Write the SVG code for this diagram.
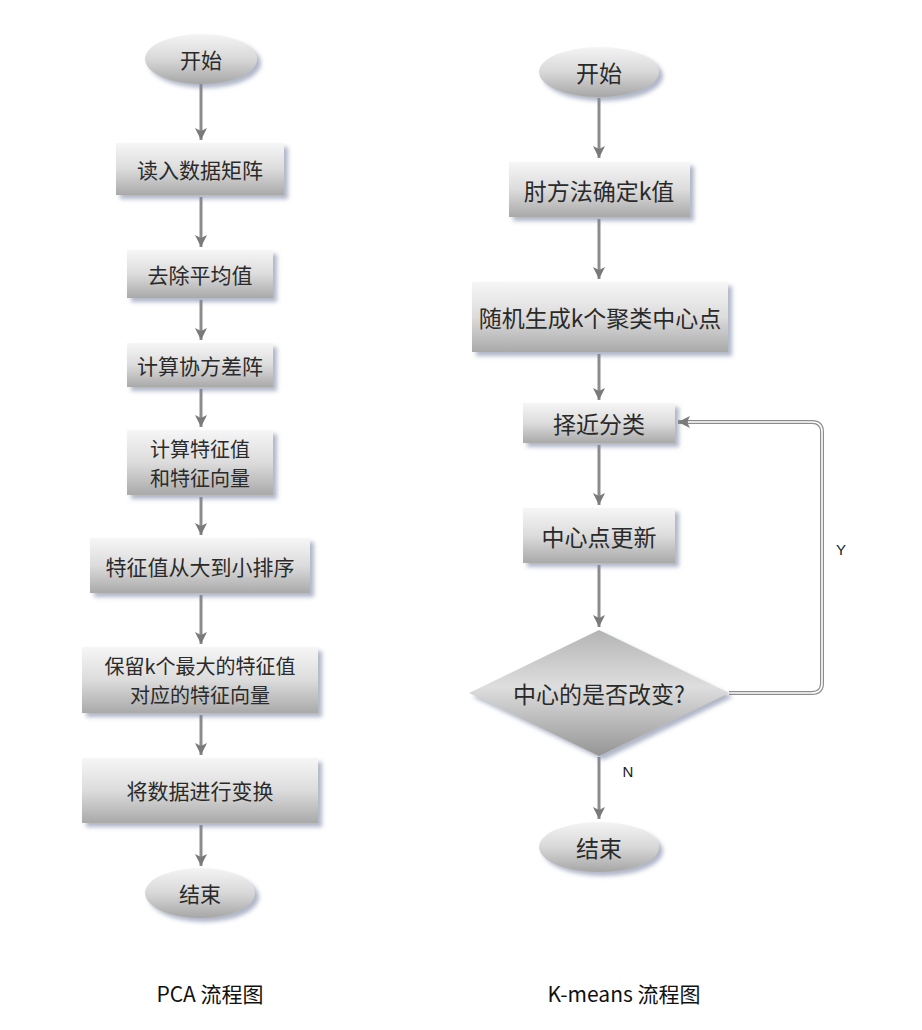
<svg xmlns="http://www.w3.org/2000/svg" width="922" height="1030" viewBox="0 0 922 1030">
<style>
text{font-family:"Noto Sans CJK SC","Liberation Sans",sans-serif;fill:#2a2a2a;text-anchor:middle;dominant-baseline:central}
.l{font-size:21px}
.l2{font-size:20px}
.r{font-size:23px}
.box{fill:url(#gbox);filter:url(#sh)}
.ell{fill:url(#gell);filter:url(#sh)}
.dia{fill:url(#gdia);filter:url(#sh)}
.ln{stroke:#8c8c8c;stroke-width:3;fill:none}
.cap{font-size:21px;fill:#111}
.yn{font-family:"Liberation Sans",sans-serif;font-size:15px;fill:#222}
</style>
<defs>
<linearGradient id="gbox" x1="0" y1="0" x2="0" y2="1">
<stop offset="0" stop-color="#f6f6f6"/>
<stop offset="0.5" stop-color="#dcdcdc"/>
<stop offset="1" stop-color="#a9a9a9"/>
</linearGradient>
<linearGradient id="gell" x1="0" y1="0" x2="0" y2="1">
<stop offset="0" stop-color="#f4f4f4"/>
<stop offset="0.5" stop-color="#d8d8d8"/>
<stop offset="1" stop-color="#a6a6a6"/>
</linearGradient>
<linearGradient id="gdia" x1="0" y1="0" x2="0" y2="1">
<stop offset="0" stop-color="#b4b4b4"/>
<stop offset="0.45" stop-color="#dedede"/>
<stop offset="1" stop-color="#959595"/>
</linearGradient>
<filter id="sh" x="-10%" y="-20%" width="125%" height="150%">
<feDropShadow dx="4" dy="4" stdDeviation="2" flood-color="#7d86a3" flood-opacity="0.6"/>
</filter>
<marker id="ah" viewBox="0 0 12 12" refX="12" refY="6" markerWidth="12" markerHeight="12" markerUnits="userSpaceOnUse" orient="auto">
<path d="M0,0 L12,6 L0,12 L3,6 z" fill="#7a7a7a"/>
</marker>
</defs>

<g id="connectors">
<g class="pca">
<path class="ln" d="M201,84 V140" marker-end="url(#ah)"/>
<path class="ln" d="M201,197 V247" marker-end="url(#ah)"/>
<path class="ln" d="M201,300 V340" marker-end="url(#ah)"/>
<path class="ln" d="M201,389 V427" marker-end="url(#ah)"/>
<path class="ln" d="M201,497 V535" marker-end="url(#ah)"/>
<path class="ln" d="M201,595 V644" marker-end="url(#ah)"/>
<path class="ln" d="M201,715 V755" marker-end="url(#ah)"/>
<path class="ln" d="M201,825 V866" marker-end="url(#ah)"/>
</g>
<g class="km">
<path class="ln" d="M599,98 V158" marker-end="url(#ah)"/>
<path class="ln" d="M599,219 V279" marker-end="url(#ah)"/>
<path class="ln" d="M599,354 V400" marker-end="url(#ah)"/>
<path class="ln" d="M599,445 V505" marker-end="url(#ah)"/>
<path class="ln" d="M599,565 V627" marker-end="url(#ah)"/>
<path class="ln" d="M599,757 V819" marker-end="url(#ah)"/>
<path d="M729,693 H812 Q822,693 822,683 V432 Q822,422 812,422 H678" fill="none" stroke="#8c8c8c" stroke-width="4" marker-end="url(#ah)"/>
<path d="M729,693 H812 Q822,693 822,683 V432 Q822,422 812,422 H688" fill="none" stroke="#ffffff" stroke-width="1.6"/>
</g>
<text class="yn" x="841" y="549">Y</text>
<text class="yn" x="628" y="771">N</text>
</g>

<g id="pca-start"><ellipse class="ell" cx="201" cy="59" rx="56" ry="25"/><text class="l" x="201" y="59">开始</text></g>
<g id="pca-read"><rect class="box" x="116" y="143" width="168" height="52"/><text class="l" x="200" y="169">读入数据矩阵</text></g>
<g id="pca-mean"><rect class="box" x="127" y="250" width="146" height="48"/><text class="l" x="200" y="274">去除平均值</text></g>
<g id="pca-cov"><rect class="box" x="127" y="343" width="146" height="44"/><text class="l" x="200" y="365">计算协方差阵</text></g>
<g id="pca-eig"><rect class="box" x="127" y="430" width="146" height="65"/><text class="l2" x="200" y="448">计算特征值</text><text class="l2" x="200" y="477.5">和特征向量</text></g>
<g id="pca-sort"><rect class="box" x="90" y="538" width="220" height="55"/><text class="l" x="200" y="566">特征值从大到小排序</text></g>
<g id="pca-keep"><rect class="box" x="82" y="647" width="236" height="66"/><text class="l2" x="200" y="665">保留k个最大的特征值</text><text class="l2" x="200" y="694.5">对应的特征向量</text></g>
<g id="pca-transform"><rect class="box" x="82" y="758" width="236" height="65"/><text class="l" x="200" y="790">将数据进行变换</text></g>
<g id="pca-end"><ellipse class="ell" cx="200" cy="893" rx="55" ry="25"/><text class="l" x="200" y="893">结束</text></g>

<g id="km-start"><ellipse class="ell" cx="599" cy="72" rx="60" ry="25"/><text class="r" x="599" y="72">开始</text></g>
<g id="km-elbow"><rect class="box" x="509" y="162" width="181" height="55"/><text class="r" x="599" y="190">肘方法确定k值</text></g>
<g id="km-init"><rect class="box" x="472" y="282" width="256" height="70"/><text class="r" x="600" y="317">随机生成k个聚类中心点</text></g>
<g id="km-assign"><rect class="box" x="523" y="403" width="152" height="40"/><text class="r" x="599" y="423">择近分类</text></g>
<g id="km-update"><rect class="box" x="523" y="508" width="152" height="55"/><text class="r" x="599" y="536">中心点更新</text></g>
<g id="km-check"><polygon class="dia" points="599,630 729,693 599,756 469,693"/><text class="r" x="599" y="693">中心的是否改变?</text></g>
<g id="km-end"><ellipse class="ell" cx="599" cy="847" rx="60" ry="25"/><text class="r" x="599" y="847">结束</text></g>

<text class="cap" x="210" y="993">PCA 流程图</text>
<text class="cap" x="624" y="993">K-means 流程图</text>
</svg>
